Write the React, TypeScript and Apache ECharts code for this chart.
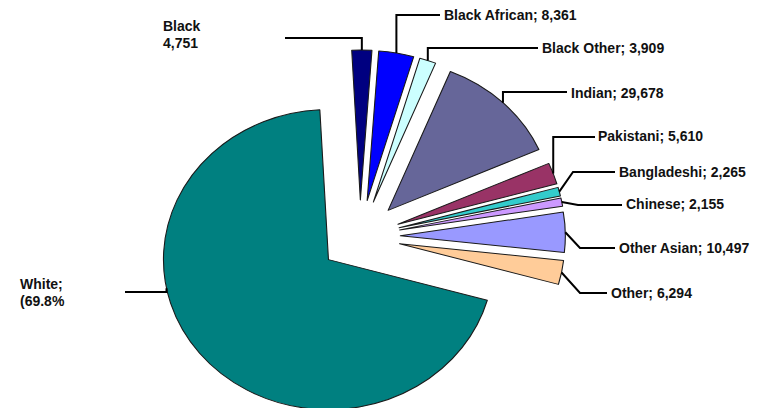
import React, { useEffect, useRef } from "react";
import * as echarts from "echarts";

// ---- data ----
const categories = [
  "Black",
  "Black African",
  "Black Other",
  "Indian",
  "Pakistani",
  "Bangladeshi",
  "Chinese",
  "Other Asian",
  "Other",
  "White",
];
const minorityValues = [4751, 8361, 3909, 29678, 5610, 2265, 2155, 10497, 6294];
const whitePercent = 69.8;
const colors = [
  "#000080",
  "#0000ff",
  "#ccffff",
  "#666699",
  "#993366",
  "#33cccc",
  "#cc99ff",
  "#9999ff",
  "#ffcc99",
  "#008080",
];

// ---- layout (positions / styles only) ----
const W = 767;
const H = 408;
const SX = 1.1; // the original pie is stretched horizontally (ellipse)
const CX = 360;
const CY = 236.7;
const R = 150;
const OFFSET = 36.7;
const START = -3; // degrees clockwise from north

type LabelPos = {
  x: number;
  y: number;
  lineY?: number;
  corner?: [number, number];
  end: [number, number];
  anchorAngle?: number;
};
const labelPos: LabelPos[] = [
  { x: 163, y: 34, lineY: 38, end: [285, 38] },
  { x: 444, y: 15, lineY: 15, end: [440, 15] },
  { x: 542, y: 48, lineY: 48, end: [538, 48] },
  { x: 571, y: 93, lineY: 92, end: [567, 92] },
  { x: 598, y: 136, lineY: 137, end: [595, 137] },
  { x: 619, y: 172, corner: [573, 172], end: [615, 172] },
  { x: 626, y: 204, corner: [578, 205], end: [622, 205] },
  { x: 619, y: 248, corner: [580, 248], end: [615, 248] },
  { x: 611, y: 293, corner: [580, 293], end: [607, 293] },
  { x: 20, y: 292, lineY: 292, end: [125, 292], anchorAngle: 259 },
];

function buildValues() {
  const minoritySum = minorityValues.reduce((a, b) => a + b, 0);
  const whiteValue = (minoritySum * whitePercent) / (100 - whitePercent);
  return [...minorityValues, whiteValue];
}

const dir = (deg: number) => {
  const t = (deg * Math.PI) / 180;
  return [Math.sin(t), -Math.cos(t)];
};

export default function App() {
  const pieRef = useRef<HTMLDivElement>(null);
  const labelRef = useRef<HTMLDivElement>(null);

  useEffect(() => {
    if (!pieRef.current || !labelRef.current) return;
    const pieChart = echarts.init(pieRef.current, undefined, { renderer: "svg" });
    const labelChart = echarts.init(labelRef.current, undefined, { renderer: "svg" });

    const values = buildValues();
    const total = values.reduce((a, b) => a + b, 0);
    const cum: number[] = [];
    let acc = 0;
    values.forEach((v) => {
      cum.push(acc);
      acc += v;
    });
    const midAngle = (i: number) =>
      START + ((cum[i] + values[i] / 2) / total) * 360;

    const fmt = (v: number) => v.toLocaleString("en-US");
    const labelText = (i: number) => {
      if (i === 0) return `${categories[i]}\n${fmt(values[i])}`;
      if (i === 9) return `${categories[i]};\n(${whitePercent}%`;
      return `${categories[i]}; ${fmt(values[i])}`;
    };

    const hidden = {
      itemStyle: { color: "rgba(0,0,0,0)", borderWidth: 0 },
      label: { show: false },
      labelLine: { show: false },
    };

    // ---- exploded pie: one pie per slice, shifted along its mid-angle ----
    // drawn in an unstretched frame, then stretched by SX via CSS
    const pieSeries = values.map((_, k) => {
      const m = dir(midAngle(k));
      return {
        type: "pie",
        name: categories[k],
        center: [CX / SX + OFFSET * m[0], CY + OFFSET * m[1]],
        radius: R,
        startAngle: 90 - START,
        clockwise: true,
        silent: true,
        emphasis: { disabled: true },
        label: { show: false },
        labelLine: { show: false },
        data: values.map((v, i) =>
          i === k
            ? {
                name: categories[i],
                value: v,
                itemStyle: {
                  color: colors[i],
                  borderColor: "#1a1a1a",
                  borderWidth: 1,
                },
              }
            : { name: categories[i], value: v, ...hidden }
        ),
      };
    });

    pieChart.setOption({
      animation: false,
      backgroundColor: "#ffffff",
      series: pieSeries,
    });

    // ---- labels with leader lines, in the unstretched page frame ----
    const anchor = (i: number): [number, number] => {
      const m = dir(midAngle(i));
      const a = dir(labelPos[i].anchorAngle ?? midAngle(i));
      return [
        CX + SX * (OFFSET * m[0] + R * a[0]),
        CY + OFFSET * m[1] + R * a[1],
      ];
    };

    labelChart.setOption({
      animation: false,
      backgroundColor: "rgba(0,0,0,0)",
      series: [
        {
          type: "pie",
          center: [CX, CY],
          radius: R,
          startAngle: 90 - START,
          clockwise: true,
          silent: true,
          avoidLabelOverlap: false,
          emphasis: { disabled: true },
          itemStyle: { color: "rgba(0,0,0,0)", borderWidth: 0 },
          label: {
            show: true,
            position: "outside",
            color: "#111111",
            fontSize: 14,
            fontWeight: "bold",
            fontFamily: "Liberation Sans, Arial, sans-serif",
            lineHeight: 17,
          },
          labelLine: {
            show: true,
            lineStyle: { color: "#000000", width: 2 },
          },
          labelLayout: (params: any) => {
            const i = params.dataIndex;
            const p = labelPos[i];
            const a = anchor(i);
            const corner: [number, number] = p.corner ?? [a[0], p.lineY as number];
            return {
              x: p.x,
              y: p.y,
              align: "left",
              verticalAlign: "middle",
              labelLinePoints: [a, corner, p.end],
            };
          },
          data: values.map((v, i) => ({
            name: categories[i],
            value: v,
            label: { formatter: labelText(i) },
          })),
        },
      ],
    });

    return () => {
      pieChart.dispose();
      labelChart.dispose();
    };
  }, []);

  return (
    <div
      style={{
        position: "fixed",
        left: 0,
        top: 0,
        width: W,
        height: H,
        overflow: "hidden",
        background: "#ffffff",
      }}
    >
      <div
        ref={pieRef}
        style={{
          position: "absolute",
          left: 0,
          top: 0,
          width: W / SX,
          height: H,
          transform: `scaleX(${SX})`,
          transformOrigin: "0 0",
        }}
      />
      <div
        ref={labelRef}
        style={{ position: "absolute", left: 0, top: 0, width: W, height: H }}
      />
    </div>
  );
}
